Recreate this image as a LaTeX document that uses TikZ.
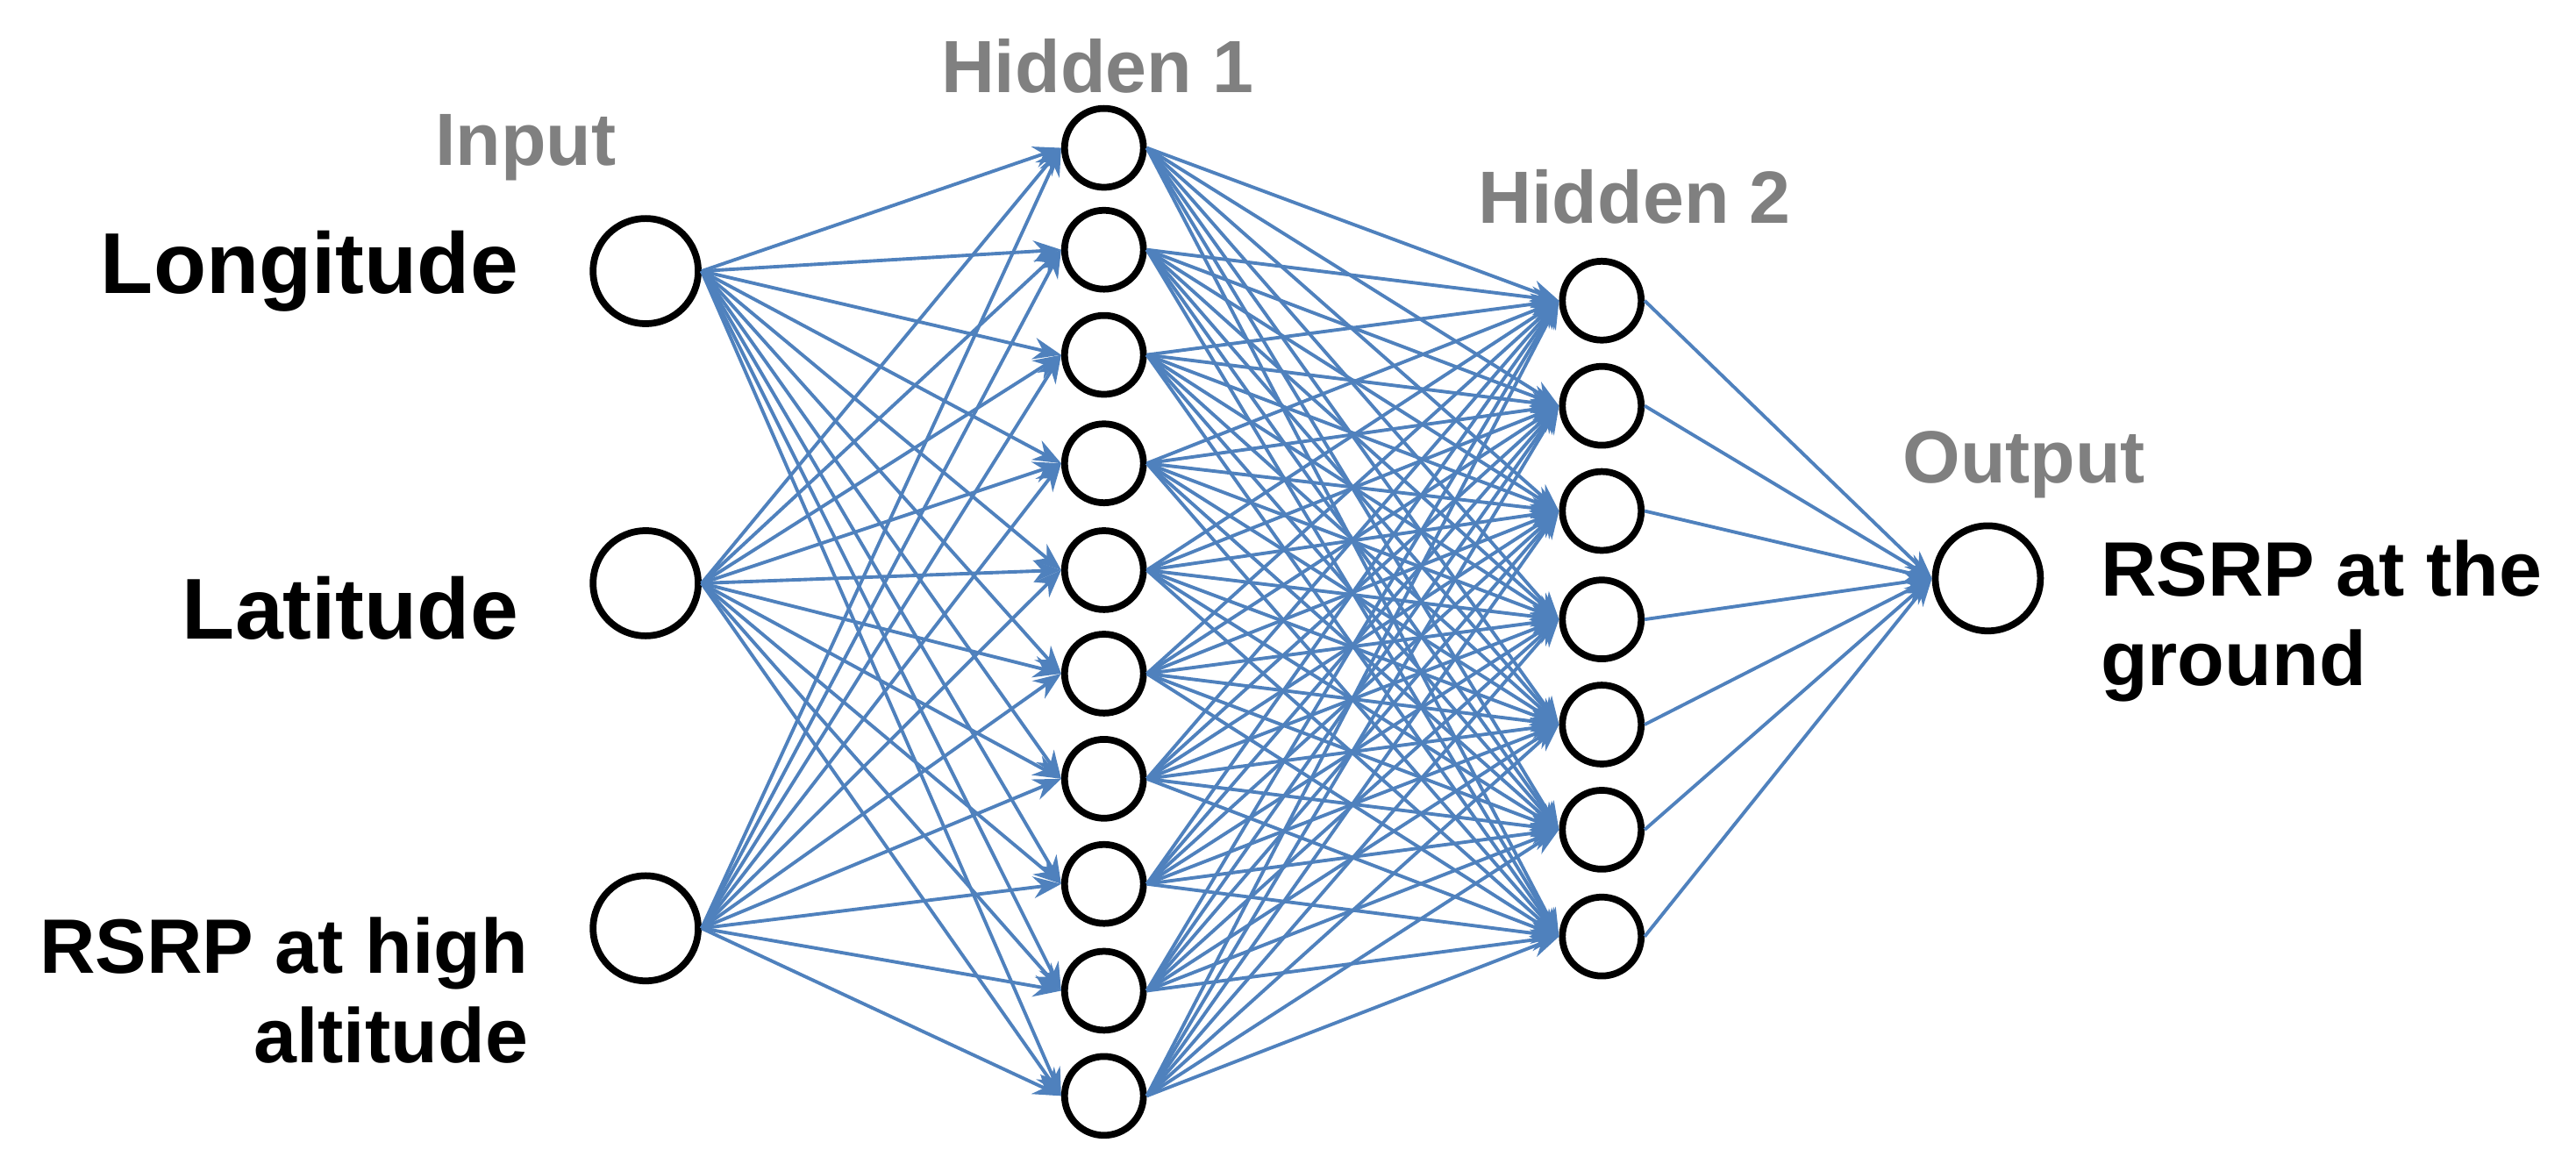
\documentclass[tikz,border=0pt]{standalone}
\usepackage{fontspec}
\setmainfont{Liberation Sans}
\usetikzlibrary{arrows.meta}
\definecolor{edge}{RGB}{79,129,189}
\definecolor{lbl}{RGB}{128,128,128}
\begin{document}
\begin{tikzpicture}[x=0.01873cm,y=-0.01873cm,
  big/.style={circle,draw=black,line width=2.2pt,minimum size=64*0.01873cm,inner sep=0pt},
  small/.style={circle,draw=black,line width=2.2pt,minimum size=48*0.01873cm,inner sep=0pt},
  conn/.style={draw=edge,line width=1.1pt,-{Stealth[length=9pt,width=7pt]}},
  head/.style={text=lbl,font=\fontsize{24}{28}\selectfont\bfseries},
  lab/.style={font=\fontsize{25}{29}\selectfont\bfseries,align=left}]
\useasboundingbox (0,0) rectangle (1568,708);
\fill[white] (0,0) rectangle (1568,708);
\node[big] (i1) at (393,165) {};
\node[big] (i2) at (393,355) {};
\node[big] (i3) at (393,565) {};
\foreach \y [count=\k] in {90,152,216,282,347,410,474,538,603,667}
  \node[small] (a\k) at (672,\y) {};
\foreach \y [count=\k] in {183,247,311,377,441,505,570}
  \node[small] (b\k) at (975,\y) {};
\node[big] (o) at (1210,352) {};
\foreach \i in {1,2,3} \foreach \j in {1,...,10}
  \draw[conn] (i\i.east) -- (a\j.west);
\foreach \i in {1,...,10} \foreach \j in {1,...,7}
  \draw[conn] (a\i.east) -- (b\j.west);
\foreach \i in {1,...,7}
  \draw[conn] (b\i.east) -- (o.west);
\node[head] (hi) at (320,90) {Input};
\node[head] (h1) at (668,40) {Hidden 1};
\node[head] (h2) at (995,120) {Hidden 2};
\node[head] (ho) at (1232,283) {Output};
\node[font=\fontsize{28}{32}\selectfont\bfseries,anchor=east] (t1) at (322,165) {Longitude};
\node[font=\fontsize{28}{32}\selectfont\bfseries,anchor=east] (t2) at (322,370) {Latitude};
\node[lab,anchor=east,align=right] (t3) at (328,603) {RSRP at high\\altitude};
\node[lab,anchor=west] (t4) at (1272,378) {RSRP at the\\ground};
\end{tikzpicture}
\end{document}
